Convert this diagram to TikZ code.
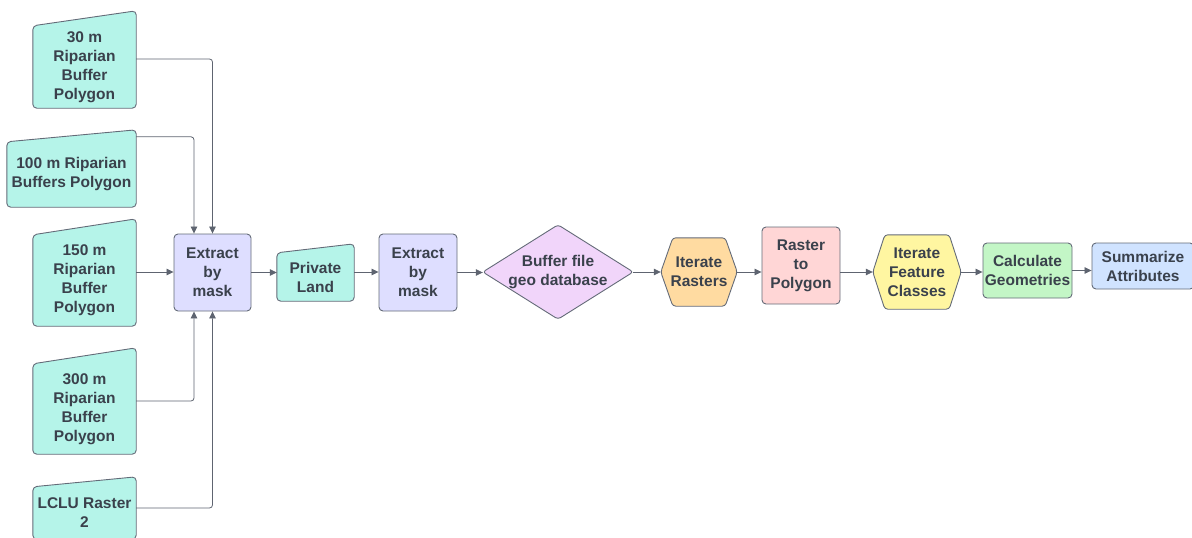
\documentclass[tikz,border=0pt]{standalone}
\usepackage{fontspec}
\setmainfont{Liberation Sans}
\usetikzlibrary{arrows.meta}
\pgfdeclarelayer{background}
\pgfsetlayers{background,main}

\definecolor{edge}{HTML}{646B78}
\definecolor{wire}{HTML}{5E6470}
\definecolor{txt}{HTML}{3A414C}
\definecolor{tealfill}{HTML}{B5F4E9}
\definecolor{lavfill}{HTML}{DEDEFF}
\definecolor{violetfill}{HTML}{F1D5FA}
\definecolor{orangefill}{HTML}{FFDBA1}
\definecolor{pinkfill}{HTML}{FFD6D6}
\definecolor{yellowfill}{HTML}{FFF6A1}
\definecolor{greenfill}{HTML}{C3F6C6}
\definecolor{bluefill}{HTML}{D0E3FF}

\begin{document}
\begin{tikzpicture}[x=1pt,y=-1pt,
  lbl/.style={inner sep=0pt, align=center, text=txt,
    font=\fontsize{15.5}{19}\selectfont\bfseries},
  box/.style={lbl, draw=edge, line width=0.9pt, rounded corners=4pt},
  outline/.style={draw=edge, line width=0.9pt, rounded corners=4pt},
  conn/.style={draw=wire, line width=0.8pt, rounded corners=3pt,
    -{Triangle[length=7pt,width=6.5pt]}}]
\useasboundingbox (0,0) rectangle (1192,538);

% input datasets (manual-input shapes; node = part below the slanted top)
\node[lbl, minimum width=103pt, minimum height=82pt] (m30) at (84.5,67)
  {30 m\\Riparian\\Buffer\\Polygon};
\node[lbl, minimum width=129pt, minimum height=65pt] (m100) at (71.5,174.5)
  {100 m Riparian\\Buffers Polygon};
\node[lbl, minimum width=103pt, minimum height=91pt] (m150) at (84.5,280.5)
  {150 m\\Riparian\\Buffer\\Polygon};
\node[lbl, minimum width=103pt, minimum height=90pt] (m300) at (84.5,409)
  {300 m\\Riparian\\Buffer\\Polygon};
\node[lbl, minimum width=103pt, minimum height=52pt] (lclu) at (84.5,513)
  {LCLU Raster\\2};

% processing chain
\node[box, fill=lavfill, minimum width=77pt, minimum height=77pt] (ex1) at (212.5,272.5)
  {Extract\\by\\mask};
\node[lbl, minimum width=77pt, minimum height=48pt] (pl) at (315.5,277)
  {Private\\Land};
\node[box, fill=lavfill, minimum width=78pt, minimum height=77pt] (ex2) at (418,272.5)
  {Extract\\by\\mask};
\node[lbl, minimum width=150pt, minimum height=94pt] (db) at (558,272)
  {Buffer file\\geo database};
\node[lbl, minimum width=76pt, minimum height=68pt] (ir) at (699,272)
  {Iterate\\Rasters};
\node[box, fill=pinkfill, minimum width=78pt, minimum height=77pt] (rp) at (801,265.5)
  {Raster\\to\\Polygon};
\node[lbl, minimum width=88pt, minimum height=74pt] (ifc) at (917,272)
  {Iterate\\Feature\\Classes};
\node[box, fill=greenfill, minimum width=89pt, minimum height=55pt] (cg) at (1027.5,270.5)
  {Calculate\\Geometries};
\node[box, fill=bluefill, minimum width=102pt, minimum height=46pt] (sa) at (1143,266)
  {Summarize\\Attributes};

% shape outlines drawn behind the labels
\begin{pgfonlayer}{background}
  \draw[outline, fill=tealfill] (m30.south west) -- (m30.south east)
    -- ([yshift=15pt]m30.north east) -- (m30.north west) -- cycle;
  \draw[outline, fill=tealfill] (m100.south west) -- (m100.south east)
    -- ([yshift=12pt]m100.north east) -- (m100.north west) -- cycle;
  \draw[outline, fill=tealfill] (m150.south west) -- (m150.south east)
    -- ([yshift=16pt]m150.north east) -- (m150.north west) -- cycle;
  \draw[outline, fill=tealfill] (m300.south west) -- (m300.south east)
    -- ([yshift=16pt]m300.north east) -- (m300.north west) -- cycle;
  \draw[outline, fill=tealfill] (lclu.south west) -- (lclu.south east)
    -- ([yshift=10pt]lclu.north east) -- (lclu.north west) -- cycle;
  \draw[outline, fill=tealfill] (pl.south west) -- (pl.south east)
    -- ([yshift=9pt]pl.north east) -- (pl.north west) -- cycle;
  \draw[outline, fill=violetfill, rounded corners=3pt]
    (db.west) -- (db.north) -- (db.east) -- (db.south) -- cycle;
  \draw[outline, fill=orangefill, rounded corners=3pt]
    (ir.west) -- ([xshift=12pt]ir.north west) -- ([xshift=-12pt]ir.north east)
    -- (ir.east) -- ([xshift=-12pt]ir.south east) -- ([xshift=12pt]ir.south west) -- cycle;
  \draw[outline, fill=yellowfill, rounded corners=3pt]
    (ifc.west) -- ([xshift=12pt]ifc.north west) -- ([xshift=-12pt]ifc.north east)
    -- (ifc.east) -- ([xshift=-12pt]ifc.south east) -- ([xshift=12pt]ifc.south west) -- cycle;
\end{pgfonlayer}

% connectors into the first extraction
\draw[conn] ([yshift=8pt]m30.east) -| (ex1.north);
\draw[conn] ([yshift=5pt]m100.north east) -| ([xshift=-18.5pt]ex1.north);
\draw[conn] ([yshift=8.5pt]m150.east) -- ([yshift=8.5pt]m150.east -| ex1.west);
\draw[conn] ([yshift=8pt]m300.east) -| ([xshift=-18.5pt]ex1.south);
\draw[conn] ([yshift=5pt]lclu.east) -| (ex1.south);

% main chain
\draw[conn] (ex1.east) -- (ex1.east -| pl.west);
\draw[conn] ([yshift=5pt]pl.east) -- ([yshift=5pt]pl.east -| ex2.west);
\draw[conn] (ex2.east) -- (ex2.east -| db.west);
\draw[conn] (db.east) -- (db.east -| ir.west);
\draw[conn] (ir.east) -- (ir.east -| rp.west);
\draw[conn] (ir.east -| rp.east) -- (ifc.west);
\draw[conn] (ifc.east) -- (ifc.east -| cg.west);
\draw[conn] (cg.east) -- (cg.east -| sa.west);
\end{tikzpicture}
\end{document}
